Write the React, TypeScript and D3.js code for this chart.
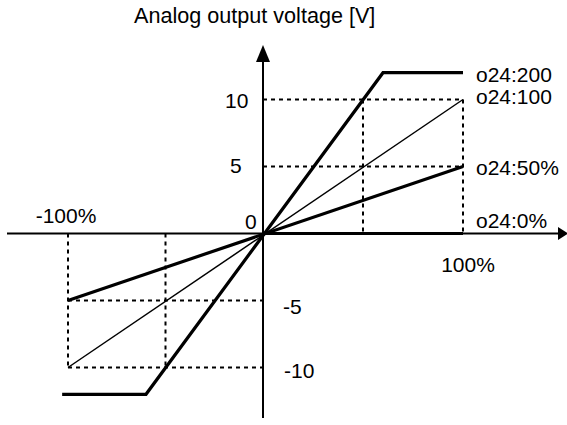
import React from "react";
import * as d3 from "d3";

const W = 567;
const H = 425;

const title = "Analog output voltage [V]";
const seriesNames = ["o24:200", "o24:100", "o24:50%", "o24:0%"];
const seriesThick = [true, false, true, true];
const seriesPoints: [number, number][][] = [
  [[-103, -12], [-60, -12], [60, 12], [100, 12]],
  [[-100, -10], [100, 10]],
  [[-100, -5], [100, 5]],
  [[0, 0], [100, 0]],
];
const yTickValues = [10, 5, -5, -10];
const yTickLabels = ["10", "5", "-5", "-10"];
const xTickValues = [-100, 100];
const xTickLabels = ["-100%", "100%"];

export default function App() {
  const x = d3.scaleLinear().domain([-100, 0, 100]).range([68, 263, 463]);
  const y = d3.scaleLinear().domain([-10, 10]).range([367.5, 99.5]);
  const line = d3.line<[number, number]>().x((d) => x(d[0])).y((d) => y(d[1]));
  const font = "'Liberation Sans', Arial, sans-serif";
  const fs = 21;

  const yLabelX = [225, 230, 283, 284];
  const yLabelDy = [8, 6, 13, 10];
  const seriesLabelY = [y(12) + 9, y(10) + 4, y(5) + 8, y(0) - 6];

  return (
    <svg width={W} height={H} style={{ position: "absolute", left: 0, top: 0, background: "#fff" }} fontFamily={font}>
      <rect width={W} height={H} fill="#fff" />
      <text x={134} y={23} fontSize={21.6}>{title}</text>
      <g stroke="#000" strokeWidth={2} strokeDasharray="4,4" fill="none">
        <line x1={x(0)} x2={x(100)} y1={y(10)} y2={y(10)} />
        <line x1={x(0)} x2={x(100)} y1={y(5)} y2={y(5)} />
        <line x1={x(100)} x2={x(100)} y1={y(10)} y2={y(0)} />
        <line x1={x(50)} x2={x(50)} y1={y(10)} y2={y(0)} />
        <line x1={x(-100)} x2={x(0)} y1={y(-5)} y2={y(-5)} />
        <line x1={x(-100)} x2={x(0)} y1={y(-10)} y2={y(-10)} />
        <line x1={x(-100)} x2={x(-100)} y1={y(0)} y2={y(-10)} />
        <line x1={x(-50)} x2={x(-50)} y1={y(0)} y2={y(-10)} />
      </g>
      <line x1={7} x2={558} y1={y(0)} y2={y(0)} stroke="#000" strokeWidth={2} />
      <polygon points={`${558},${y(0) - 6.5} ${568},${y(0)} ${558},${y(0) + 6.5}`} fill="#000" />
      <line x1={x(0)} x2={x(0)} y1={60} y2={418} stroke="#000" strokeWidth={2} />
      <polygon points={`${x(0) - 7},${62} ${x(0)},${45} ${x(0) + 7},${62}`} fill="#000" />
      {seriesPoints.map((pts, i) => (
        <path key={i} d={line(pts) || ""} fill="none" stroke="#000" strokeWidth={seriesThick[i] ? 3.2 : 1.5} strokeLinejoin="miter" />
      ))}
      {seriesNames.map((n, i) => (
        <text key={n} x={476} y={seriesLabelY[i]} fontSize={fs}>{n}</text>
      ))}
      {yTickValues.map((v, i) => (
        <text key={v} x={yLabelX[i]} y={y(v) + yLabelDy[i]} fontSize={fs}>{yTickLabels[i]}</text>
      ))}
      <text x={245} y={229} fontSize={fs}>0</text>
      <text x={x(xTickValues[0]) - 2} y={223} fontSize={fs} textAnchor="middle">{xTickLabels[0]}</text>
      <text x={x(xTickValues[1]) + 5} y={272} fontSize={fs} textAnchor="middle">{xTickLabels[1]}</text>
    </svg>
  );
}
